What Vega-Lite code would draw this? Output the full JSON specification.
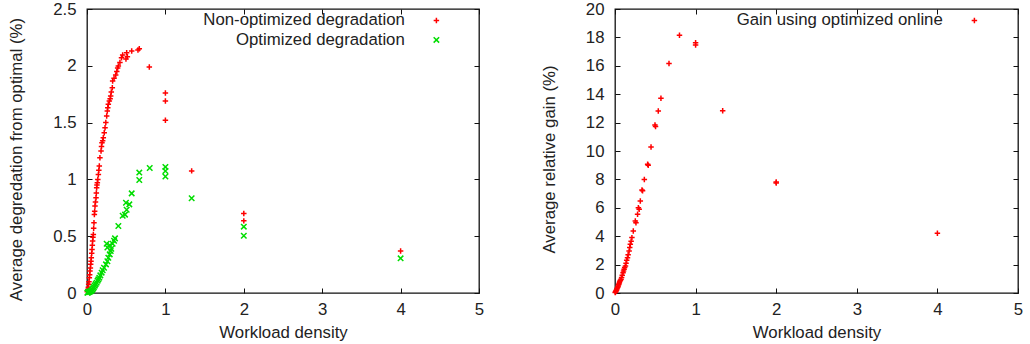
{
  "$schema": "https://vega.github.io/schema/vega-lite/v6.json",
  "padding": {"left": 8, "top": 0, "right": 5, "bottom": 0},
  "background": "white",
  "config": {
    "font": "Liberation Sans",
    "view": {"stroke": "#111", "strokeWidth": 1.3},
    "axis": {
      "labelFont": "Liberation Sans", "labelFontSize": 16.8, "labelColor": "#222",
      "titleFont": "Liberation Sans", "titleFontSize": 16.8, "titleFontWeight": "normal", "titleColor": "#222",
      "grid": false, "domain": false, "tickColor": "#111", "tickSize": -5, "tickWidth": 1,
      "labelPadding": 13, "labelFlush": false, "labelOverlap": false
    },
    "axisY": {"labelPadding": 16},
    "legend": {
      "orient": "none", "labelAlign": "right", "labelOffset": -40, "labelLimit": 400, "labelFont": "Liberation Sans",
      "labelFontSize": 16.8, "labelColor": "#222", "padding": 0, "rowPadding": 1.5, "symbolSize": 30,
      "symbolStrokeWidth": 1.5, "titlePadding": 0
    }
  },
  "datasets": {
    "deg": [
      {"x": 0.004, "y": 0.01, "series": "Non-optimized degradation"},
      {"x": 0.008, "y": 0.015, "series": "Non-optimized degradation"},
      {"x": 0.01, "y": 0.02, "series": "Non-optimized degradation"},
      {"x": 0.013, "y": 0.032, "series": "Non-optimized degradation"},
      {"x": 0.017, "y": 0.05, "series": "Non-optimized degradation"},
      {"x": 0.021, "y": 0.076, "series": "Non-optimized degradation"},
      {"x": 0.025, "y": 0.1, "series": "Non-optimized degradation"},
      {"x": 0.03, "y": 0.135, "series": "Non-optimized degradation"},
      {"x": 0.034, "y": 0.16, "series": "Non-optimized degradation"},
      {"x": 0.038, "y": 0.194, "series": "Non-optimized degradation"},
      {"x": 0.043, "y": 0.22, "series": "Non-optimized degradation"},
      {"x": 0.047, "y": 0.252, "series": "Non-optimized degradation"},
      {"x": 0.051, "y": 0.28, "series": "Non-optimized degradation"},
      {"x": 0.055, "y": 0.311, "series": "Non-optimized degradation"},
      {"x": 0.06, "y": 0.35, "series": "Non-optimized degradation"},
      {"x": 0.064, "y": 0.384, "series": "Non-optimized degradation"},
      {"x": 0.068, "y": 0.42, "series": "Non-optimized degradation"},
      {"x": 0.072, "y": 0.458, "series": "Non-optimized degradation"},
      {"x": 0.076, "y": 0.49, "series": "Non-optimized degradation"},
      {"x": 0.081, "y": 0.516, "series": "Non-optimized degradation"},
      {"x": 0.085, "y": 0.57, "series": "Non-optimized degradation"},
      {"x": 0.089, "y": 0.619, "series": "Non-optimized degradation"},
      {"x": 0.094, "y": 0.692, "series": "Non-optimized degradation"},
      {"x": 0.098, "y": 0.72, "series": "Non-optimized degradation"},
      {"x": 0.102, "y": 0.766, "series": "Non-optimized degradation"},
      {"x": 0.108, "y": 0.8, "series": "Non-optimized degradation"},
      {"x": 0.115, "y": 0.839, "series": "Non-optimized degradation"},
      {"x": 0.119, "y": 0.88, "series": "Non-optimized degradation"},
      {"x": 0.123, "y": 0.927, "series": "Non-optimized degradation"},
      {"x": 0.127, "y": 0.95, "series": "Non-optimized degradation"},
      {"x": 0.132, "y": 0.971, "series": "Non-optimized degradation"},
      {"x": 0.138, "y": 1.0, "series": "Non-optimized degradation"},
      {"x": 0.145, "y": 1.044, "series": "Non-optimized degradation"},
      {"x": 0.151, "y": 1.08, "series": "Non-optimized degradation"},
      {"x": 0.157, "y": 1.118, "series": "Non-optimized degradation"},
      {"x": 0.165, "y": 1.19, "series": "Non-optimized degradation"},
      {"x": 0.179, "y": 1.25, "series": "Non-optimized degradation"},
      {"x": 0.185, "y": 1.29, "series": "Non-optimized degradation"},
      {"x": 0.191, "y": 1.323, "series": "Non-optimized degradation"},
      {"x": 0.2, "y": 1.34, "series": "Non-optimized degradation"},
      {"x": 0.208, "y": 1.367, "series": "Non-optimized degradation"},
      {"x": 0.22, "y": 1.41, "series": "Non-optimized degradation"},
      {"x": 0.23, "y": 1.455, "series": "Non-optimized degradation"},
      {"x": 0.24, "y": 1.5, "series": "Non-optimized degradation"},
      {"x": 0.251, "y": 1.558, "series": "Non-optimized degradation"},
      {"x": 0.259, "y": 1.602, "series": "Non-optimized degradation"},
      {"x": 0.265, "y": 1.63, "series": "Non-optimized degradation"},
      {"x": 0.272, "y": 1.661, "series": "Non-optimized degradation"},
      {"x": 0.285, "y": 1.69, "series": "Non-optimized degradation"},
      {"x": 0.295, "y": 1.71, "series": "Non-optimized degradation"},
      {"x": 0.302, "y": 1.734, "series": "Non-optimized degradation"},
      {"x": 0.31, "y": 1.77, "series": "Non-optimized degradation"},
      {"x": 0.323, "y": 1.807, "series": "Non-optimized degradation"},
      {"x": 0.327, "y": 1.866, "series": "Non-optimized degradation"},
      {"x": 0.345, "y": 1.89, "series": "Non-optimized degradation"},
      {"x": 0.366, "y": 1.919, "series": "Non-optimized degradation"},
      {"x": 0.38, "y": 1.95, "series": "Non-optimized degradation"},
      {"x": 0.391, "y": 1.98, "series": "Non-optimized degradation"},
      {"x": 0.4, "y": 1.998, "series": "Non-optimized degradation"},
      {"x": 0.42, "y": 2.03, "series": "Non-optimized degradation"},
      {"x": 0.44, "y": 2.07, "series": "Non-optimized degradation"},
      {"x": 0.455, "y": 2.095, "series": "Non-optimized degradation"},
      {"x": 0.497, "y": 2.06, "series": "Non-optimized degradation"},
      {"x": 0.506, "y": 2.115, "series": "Non-optimized degradation"},
      {"x": 0.515, "y": 2.08, "series": "Non-optimized degradation"},
      {"x": 0.57, "y": 2.13, "series": "Non-optimized degradation"},
      {"x": 0.65, "y": 2.14, "series": "Non-optimized degradation"},
      {"x": 0.667, "y": 2.15, "series": "Non-optimized degradation"},
      {"x": 0.795, "y": 1.99, "series": "Non-optimized degradation"},
      {"x": 1.0, "y": 1.76, "series": "Non-optimized degradation"},
      {"x": 1.0, "y": 1.69, "series": "Non-optimized degradation"},
      {"x": 1.0, "y": 1.52, "series": "Non-optimized degradation"},
      {"x": 1.335, "y": 1.075, "series": "Non-optimized degradation"},
      {"x": 2.0, "y": 0.7, "series": "Non-optimized degradation"},
      {"x": 2.0, "y": 0.635, "series": "Non-optimized degradation"},
      {"x": 4.0, "y": 0.37, "series": "Non-optimized degradation"},
      {"x": 0.005, "y": 0.002, "series": "Optimized degradation"},
      {"x": 0.01, "y": 0.004, "series": "Optimized degradation"},
      {"x": 0.015, "y": 0.006, "series": "Optimized degradation"},
      {"x": 0.02, "y": 0.008, "series": "Optimized degradation"},
      {"x": 0.03, "y": 0.01, "series": "Optimized degradation"},
      {"x": 0.04, "y": 0.014, "series": "Optimized degradation"},
      {"x": 0.05, "y": 0.018, "series": "Optimized degradation"},
      {"x": 0.06, "y": 0.023, "series": "Optimized degradation"},
      {"x": 0.07, "y": 0.032, "series": "Optimized degradation"},
      {"x": 0.08, "y": 0.043, "series": "Optimized degradation"},
      {"x": 0.089, "y": 0.053, "series": "Optimized degradation"},
      {"x": 0.1, "y": 0.065, "series": "Optimized degradation"},
      {"x": 0.11, "y": 0.078, "series": "Optimized degradation"},
      {"x": 0.123, "y": 0.091, "series": "Optimized degradation"},
      {"x": 0.135, "y": 0.108, "series": "Optimized degradation"},
      {"x": 0.145, "y": 0.12, "series": "Optimized degradation"},
      {"x": 0.157, "y": 0.135, "series": "Optimized degradation"},
      {"x": 0.17, "y": 0.155, "series": "Optimized degradation"},
      {"x": 0.187, "y": 0.179, "series": "Optimized degradation"},
      {"x": 0.2, "y": 0.2, "series": "Optimized degradation"},
      {"x": 0.217, "y": 0.223, "series": "Optimized degradation"},
      {"x": 0.242, "y": 0.252, "series": "Optimized degradation"},
      {"x": 0.26, "y": 0.28, "series": "Optimized degradation"},
      {"x": 0.272, "y": 0.311, "series": "Optimized degradation"},
      {"x": 0.29, "y": 0.34, "series": "Optimized degradation"},
      {"x": 0.302, "y": 0.37, "series": "Optimized degradation"},
      {"x": 0.31, "y": 0.39, "series": "Optimized degradation"},
      {"x": 0.26, "y": 0.4, "series": "Optimized degradation"},
      {"x": 0.29, "y": 0.42, "series": "Optimized degradation"},
      {"x": 0.251, "y": 0.434, "series": "Optimized degradation"},
      {"x": 0.327, "y": 0.434, "series": "Optimized degradation"},
      {"x": 0.345, "y": 0.46, "series": "Optimized degradation"},
      {"x": 0.357, "y": 0.481, "series": "Optimized degradation"},
      {"x": 0.4, "y": 0.59, "series": "Optimized degradation"},
      {"x": 0.455, "y": 0.68, "series": "Optimized degradation"},
      {"x": 0.485, "y": 0.69, "series": "Optimized degradation"},
      {"x": 0.506, "y": 0.733, "series": "Optimized degradation"},
      {"x": 0.54, "y": 0.78, "series": "Optimized degradation"},
      {"x": 0.497, "y": 0.795, "series": "Optimized degradation"},
      {"x": 0.57, "y": 0.877, "series": "Optimized degradation"},
      {"x": 0.667, "y": 1.06, "series": "Optimized degradation"},
      {"x": 0.667, "y": 0.995, "series": "Optimized degradation"},
      {"x": 0.8, "y": 1.1, "series": "Optimized degradation"},
      {"x": 1.0, "y": 1.11, "series": "Optimized degradation"},
      {"x": 1.0, "y": 1.074, "series": "Optimized degradation"},
      {"x": 1.0, "y": 1.025, "series": "Optimized degradation"},
      {"x": 1.335, "y": 0.834, "series": "Optimized degradation"},
      {"x": 2.0, "y": 0.584, "series": "Optimized degradation"},
      {"x": 2.0, "y": 0.504, "series": "Optimized degradation"},
      {"x": 4.0, "y": 0.305, "series": "Optimized degradation"}
    ],
    "gain": [
      {"x": 0.003, "y": 0.03, "series": "Gain using optimized online"},
      {"x": 0.006, "y": 0.07, "series": "Gain using optimized online"},
      {"x": 0.01, "y": 0.12, "series": "Gain using optimized online"},
      {"x": 0.015, "y": 0.17, "series": "Gain using optimized online"},
      {"x": 0.02, "y": 0.22, "series": "Gain using optimized online"},
      {"x": 0.025, "y": 0.3, "series": "Gain using optimized online"},
      {"x": 0.03, "y": 0.37, "series": "Gain using optimized online"},
      {"x": 0.035, "y": 0.43, "series": "Gain using optimized online"},
      {"x": 0.04, "y": 0.49, "series": "Gain using optimized online"},
      {"x": 0.045, "y": 0.58, "series": "Gain using optimized online"},
      {"x": 0.05, "y": 0.66, "series": "Gain using optimized online"},
      {"x": 0.055, "y": 0.74, "series": "Gain using optimized online"},
      {"x": 0.06, "y": 0.82, "series": "Gain using optimized online"},
      {"x": 0.068, "y": 0.9, "series": "Gain using optimized online"},
      {"x": 0.075, "y": 0.96, "series": "Gain using optimized online"},
      {"x": 0.082, "y": 1.1, "series": "Gain using optimized online"},
      {"x": 0.09, "y": 1.25, "series": "Gain using optimized online"},
      {"x": 0.1, "y": 1.43, "series": "Gain using optimized online"},
      {"x": 0.106, "y": 1.55, "series": "Gain using optimized online"},
      {"x": 0.113, "y": 1.68, "series": "Gain using optimized online"},
      {"x": 0.12, "y": 1.8, "series": "Gain using optimized online"},
      {"x": 0.13, "y": 1.9, "series": "Gain using optimized online"},
      {"x": 0.137, "y": 2.1, "series": "Gain using optimized online"},
      {"x": 0.145, "y": 2.3, "series": "Gain using optimized online"},
      {"x": 0.155, "y": 2.49, "series": "Gain using optimized online"},
      {"x": 0.163, "y": 2.7, "series": "Gain using optimized online"},
      {"x": 0.175, "y": 2.96, "series": "Gain using optimized online"},
      {"x": 0.183, "y": 3.2, "series": "Gain using optimized online"},
      {"x": 0.19, "y": 3.43, "series": "Gain using optimized online"},
      {"x": 0.2, "y": 3.65, "series": "Gain using optimized online"},
      {"x": 0.21, "y": 3.9, "series": "Gain using optimized online"},
      {"x": 0.227, "y": 4.37, "series": "Gain using optimized online"},
      {"x": 0.252, "y": 5.07, "series": "Gain using optimized online"},
      {"x": 0.26, "y": 4.95, "series": "Gain using optimized online"},
      {"x": 0.28, "y": 5.54, "series": "Gain using optimized online"},
      {"x": 0.29, "y": 6.0, "series": "Gain using optimized online"},
      {"x": 0.3, "y": 5.9, "series": "Gain using optimized online"},
      {"x": 0.314, "y": 6.48, "series": "Gain using optimized online"},
      {"x": 0.335, "y": 7.25, "series": "Gain using optimized online"},
      {"x": 0.342, "y": 7.2, "series": "Gain using optimized online"},
      {"x": 0.364, "y": 8.0, "series": "Gain using optimized online"},
      {"x": 0.405, "y": 9.06, "series": "Gain using optimized online"},
      {"x": 0.412, "y": 9.0, "series": "Gain using optimized online"},
      {"x": 0.447, "y": 10.28, "series": "Gain using optimized online"},
      {"x": 0.496, "y": 11.83, "series": "Gain using optimized online"},
      {"x": 0.503, "y": 11.72, "series": "Gain using optimized online"},
      {"x": 0.537, "y": 12.82, "series": "Gain using optimized online"},
      {"x": 0.57, "y": 13.71, "series": "Gain using optimized online"},
      {"x": 0.67, "y": 16.17, "series": "Gain using optimized online"},
      {"x": 0.8, "y": 18.15, "series": "Gain using optimized online"},
      {"x": 1.0, "y": 17.63, "series": "Gain using optimized online"},
      {"x": 1.0, "y": 17.46, "series": "Gain using optimized online"},
      {"x": 1.336, "y": 12.84, "series": "Gain using optimized online"},
      {"x": 2.0, "y": 7.82, "series": "Gain using optimized online"},
      {"x": 2.0, "y": 7.75, "series": "Gain using optimized online"},
      {"x": 4.0, "y": 4.2, "series": "Gain using optimized online"}
    ]
  },
  "spacing": 55,
  "resolve": {"scale": {"color": "independent", "shape": "independent"}},
  "hconcat": [
    {
      "width": 392,
      "height": 284,
      "resolve": {"axis": {"x": "independent", "y": "independent"}},
      "layer": [
        {
          "data": {"name": "deg"},
          "mark": {"type": "point", "filled": false, "strokeWidth": 1.5, "size": 30, "opacity": 1},
          "encoding": {
            "x": {"field": "x", "type": "quantitative", "scale": {"domain": [0, 5], "nice": false},
                  "axis": {"title": "Workload density", "values": [0, 1, 2, 3, 4, 5], "titlePadding": 7}},
            "y": {"field": "y", "type": "quantitative", "scale": {"domain": [0, 2.5], "nice": false},
                  "axis": {"title": "Average degredation from optimal (%)", "values": [0, 0.5, 1, 1.5, 2, 2.5], "format": "~g", "titlePadding": 27, "titleY": 150}},
            "color": {"field": "series", "type": "nominal",
                      "scale": {"domain": ["Non-optimized degradation", "Optimized degradation"], "range": ["#ff0000", "#00dd00"]},
                      "legend": {"title": null, "legendX": 341, "legendY": 3}},
            "shape": {"field": "series", "type": "nominal",
                      "scale": {"domain": ["Non-optimized degradation", "Optimized degradation"], "range": ["M-1,0L1,0M0,-1L0,1", "M-1,-1L1,1M-1,1L1,-1"]},
                      "legend": {"title": null, "legendX": 341, "legendY": 3}}
          }
        },
        {
          "data": {"name": "deg"},
          "mark": {"type": "point", "opacity": 0},
          "encoding": {
            "x": {"field": "x", "type": "quantitative", "axis": {"orient": "top", "labels": false, "title": null, "values": [0, 1, 2, 3, 4, 5]}},
            "y": {"field": "y", "type": "quantitative", "axis": {"orient": "right", "labels": false, "title": null, "values": [0, 0.5, 1, 1.5, 2, 2.5]}}
          }
        }
      ]
    },
    {
      "width": 403,
      "height": 284,
      "resolve": {"axis": {"x": "independent", "y": "independent"}},
      "layer": [
        {
          "data": {"name": "gain"},
          "mark": {"type": "point", "filled": false, "strokeWidth": 1.5, "size": 30, "opacity": 1},
          "encoding": {
            "x": {"field": "x", "type": "quantitative", "scale": {"domain": [0, 5], "nice": false},
                  "axis": {"title": "Workload density", "values": [0, 1, 2, 3, 4, 5], "titlePadding": 7}},
            "y": {"field": "y", "type": "quantitative", "scale": {"domain": [0, 20], "nice": false},
                  "axis": {"title": "Average relative gain (%)", "values": [0, 2, 4, 6, 8, 10, 12, 14, 16, 18, 20], "titlePadding": 27, "titleY": 150}},
            "color": {"field": "series", "type": "nominal",
                      "scale": {"domain": ["Gain using optimized online"], "range": ["#ff0000"]},
                      "legend": {"title": null, "legendX": 351, "legendY": 3}},
            "shape": {"field": "series", "type": "nominal",
                      "scale": {"domain": ["Gain using optimized online"], "range": ["M-1,0L1,0M0,-1L0,1"]},
                      "legend": {"title": null, "legendX": 351, "legendY": 3}}
          }
        },
        {
          "data": {"name": "gain"},
          "mark": {"type": "point", "opacity": 0},
          "encoding": {
            "x": {"field": "x", "type": "quantitative", "axis": {"orient": "top", "labels": false, "title": null, "values": [0, 1, 2, 3, 4, 5]}},
            "y": {"field": "y", "type": "quantitative", "axis": {"orient": "right", "labels": false, "title": null, "values": [0, 2, 4, 6, 8, 10, 12, 14, 16, 18, 20]}}
          }
        }
      ]
    }
  ]
}
